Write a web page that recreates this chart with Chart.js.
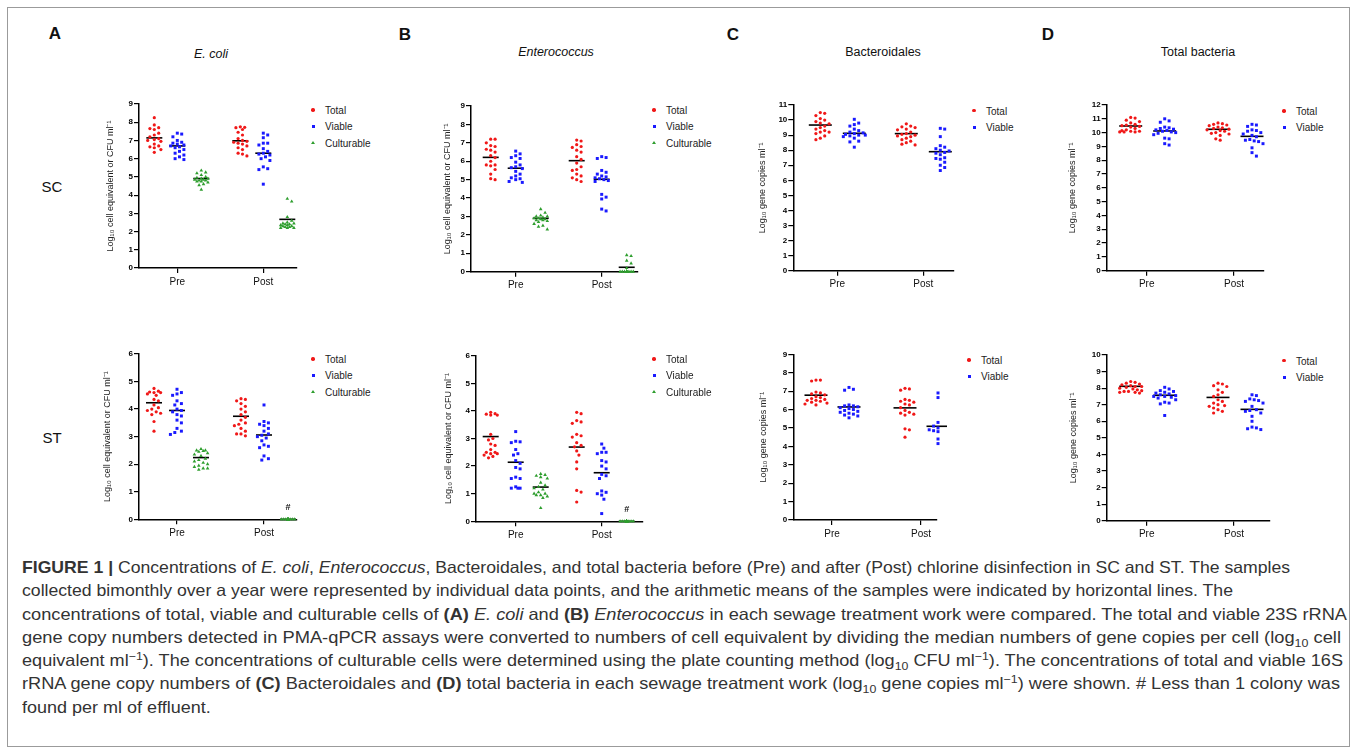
<!DOCTYPE html>
<html>
<head>
<meta charset="utf-8">
<script src="https://cdn.jsdelivr.net/npm/chart.js@4.4.1/dist/chart.umd.min.js"></script>
<style>
  body { margin: 0; background: #fff; font-family: "Liberation Sans", Arial, sans-serif; }
  #page { position: relative; width: 1357px; height: 752px; overflow: hidden; background: #fff; }
  #frame { position: absolute; left: 7px; top: 7px; width: 1343px; height: 740px; border: 1px solid #9b9b9b; box-sizing: border-box; }
  .c { position: absolute; transform: translate(-50%, -50%); white-space: nowrap; color: #111; }
  .letter { font-weight: bold; font-size: 17px; }
  .ptitle { font-size: 12.5px; }
  .row { font-size: 15px; }
  canvas { position: absolute; }
  .leg { position: absolute; font-size: 10px; color: #222; white-space: nowrap; transform: translateY(-50%); }
  .mk { position: absolute; }
  #caption { position: absolute; left: 22px; top: 556px; font-size: 16.5px; color: #333; line-height: 23.3px; }
  .cap { height: 23.3px; white-space: nowrap; transform-origin: 0 0; }
  .cap span { display: inline-block; }
  sub, sup { font-size: 0.68em; line-height: 0; }
</style>
</head>
<body>
<div id="page">
  <div id="frame"></div>
  <div class="c letter" style="left:55px;top:34px">A</div>
  <div class="c letter" style="left:405px;top:35px">B</div>
  <div class="c letter" style="left:733px;top:35px">C</div>
  <div class="c letter" style="left:1048px;top:35px">D</div>
  <div class="c ptitle" style="left:211px;top:54px"><i>E. coli</i></div>
  <div class="c ptitle" style="left:556px;top:52px"><i>Enterococcus</i></div>
  <div class="c ptitle" style="left:883px;top:52px">Bacteroidales</div>
  <div class="c ptitle" style="left:1198px;top:52px">Total bacteria</div>
  <div class="c row" style="left:52px;top:186px">SC</div>
  <div class="c row" style="left:52px;top:437px">ST</div>
  <div id="caption">
    <div class="cap" data-right="1290"><span><b>FIGURE 1 |</b> Concentrations of <i>E. coli</i>, <i>Enterococcus</i>, Bacteroidales, and total bacteria before (Pre) and after (Post) chlorine disinfection in SC and ST. The samples</span></div>
    <div class="cap" data-right="1233"><span>collected bimonthly over a year were represented by individual data points, and the arithmetic means of the samples were indicated by horizontal lines. The</span></div>
    <div class="cap" data-right="1347"><span>concentrations of total, viable and culturable cells of <b>(A)</b> <i>E. coli</i> and <b>(B)</b> <i>Enterococcus</i> in each sewage treatment work were compared. The total and viable 23S rRNA</span></div>
    <div class="cap" data-right="1341"><span>gene copy numbers detected in PMA-qPCR assays were converted to numbers of cell equivalent by dividing the median numbers of gene copies per cell (log<sub>10</sub> cell</span></div>
    <div class="cap" data-right="1343"><span>equivalent ml<sup>−1</sup>). The concentrations of culturable cells were determined using the plate counting method (log<sub>10</sub> CFU ml<sup>−1</sup>). The concentrations of total and viable 16S</span></div>
    <div class="cap" data-right="1340"><span>rRNA gene copy numbers of <b>(C)</b> Bacteroidales and <b>(D)</b> total bacteria in each sewage treatment work (log<sub>10</sub> gene copies ml<sup>−1</sup>) were shown. # Less than 1 colony was</span></div>
    <div class="cap"><span>found per ml of effluent.</span></div>
  </div>
</div>
<script>
// categories and series names
const groups = ['Pre', 'Post'];
const names3 = ['Total', 'Viable', 'Culturable'];
const names2 = ['Total', 'Viable'];
const titleCell = 'Log₁₀ cell equivalent or CFU ml⁻¹';
const titleGene = 'Log₁₀ gene copies ml⁻¹';

// y axis tops (tick labels 0..max)
const yMaxSC = [9, 9, 11, 12];
const yMaxST = [6, 6, 9, 10];

// ---- SC ----  each array: [Pre values, Post values]
const ecoliSC_Total = [[8.25, 7.85, 7.7, 7.65, 7.6, 7.4, 7.3, 7.2, 7.1, 7.05, 7.0, 6.95, 6.8, 6.7, 6.65, 6.6, 6.5, 6.35],
                       [7.75, 7.72, 7.7, 7.6, 7.45, 7.3, 7.1, 7.0, 6.95, 6.9, 6.85, 6.8, 6.7, 6.6, 6.5, 6.3, 6.25, 6.15]];
const ecoliSC_Viable = [[7.4, 7.35, 7.2, 7.0, 6.9, 6.85, 6.8, 6.75, 6.7, 6.65, 6.6, 6.5, 6.4, 6.3, 6.2, 6.1, 6.0, 5.95],
                        [7.4, 7.3, 7.15, 6.85, 6.85, 6.75, 6.55, 6.4, 6.3, 6.25, 6.2, 6.1, 6.0, 5.9, 5.55, 5.45, 5.4, 4.6]];
const ecoliSC_Cult = [[5.35, 5.25, 5.2, 5.1, 5.0, 4.95, 4.9, 4.9, 4.85, 4.85, 4.8, 4.8, 4.75, 4.75, 4.7, 4.6, 4.55, 4.3],
                      [3.8, 3.65, 2.8, 2.6, 2.5, 2.45, 2.45, 2.4, 2.4, 2.35, 2.35, 2.3, 2.3, 2.25, 2.25, 2.2, 2.2, 2.2]];
const ecoliSC_Mean = [[7.14, 6.70, 4.91], [6.98, 6.30, 2.67]];

const enteroSC_Total = [[7.2, 7.2, 7.0, 6.85, 6.8, 6.65, 6.6, 6.5, 6.3, 6.2, 6.0, 5.8, 5.8, 5.75, 5.55, 5.3, 5.05, 5.0],
                        [7.15, 7.1, 6.9, 6.8, 6.75, 6.6, 6.5, 6.25, 6.1, 5.9, 5.7, 5.55, 5.5, 5.3, 5.2, 5.1, 5.0, 4.9]];
const enteroSC_Viable = [[6.55, 6.4, 6.3, 6.2, 6.15, 5.95, 5.8, 5.7, 5.65, 5.6, 5.45, 5.3, 5.2, 5.1, 5.05, 5.0, 4.9, 4.85],
                         [6.25, 6.2, 6.15, 5.5, 5.4, 5.3, 5.2, 5.15, 5.1, 5.05, 5.0, 4.95, 4.9, 4.2, 4.05, 3.95, 3.4, 3.3]];
const enteroSC_Cult = [[3.4, 3.2, 3.05, 3.0, 3.0, 2.95, 2.9, 2.9, 2.85, 2.85, 2.8, 2.8, 2.75, 2.7, 2.6, 2.5, 2.45, 2.3],
                       [0.9, 0.85, 0.6, 0.45, 0.2, 0, 0, 0, 0, 0, 0, 0, 0, 0, 0, 0, 0, 0]];
const enteroSC_Mean = [[6.21, 5.62, 2.90], [6.03, 5.02, 0.24]];

const bactSC_Total = [[10.5, 10.45, 10.3, 10.1, 10.0, 9.9, 9.8, 9.75, 9.6, 9.5, 9.4, 9.3, 9.2, 9.2, 9.1, 8.95, 8.8, 8.7],
                      [9.75, 9.6, 9.55, 9.5, 9.4, 9.35, 9.2, 9.1, 9.05, 9.0, 8.95, 8.9, 8.8, 8.7, 8.6, 8.5, 8.4, 8.35]];
const bactSC_Viable = [[10.05, 9.8, 9.7, 9.6, 9.4, 9.3, 9.2, 9.15, 9.1, 9.05, 9.0, 9.0, 8.95, 8.9, 8.8, 8.6, 8.55, 8.2],
                       [9.45, 9.4, 8.9, 8.3, 8.2, 8.1, 8.0, 7.95, 7.85, 7.8, 7.7, 7.5, 7.45, 7.4, 7.2, 7.0, 6.85, 6.65]];
const bactSC_Mean = [[9.67, 9.12], [9.10, 7.90]];

const totSC_Total = [[11.1, 11.05, 10.9, 10.8, 10.7, 10.6, 10.55, 10.5, 10.45, 10.4, 10.3, 10.2, 10.15, 10.1, 10.1, 10.05, 10.05, 10.05],
                     [10.7, 10.65, 10.6, 10.55, 10.5, 10.4, 10.35, 10.3, 10.25, 10.2, 10.15, 10.1, 10.0, 9.95, 9.9, 9.8, 9.55, 9.45]];
const totSC_Viable = [[11.0, 10.85, 10.75, 10.4, 10.35, 10.3, 10.25, 10.2, 10.15, 10.1, 10.05, 10.0, 9.95, 9.85, 9.6, 9.55, 9.2, 9.1],
                      [10.6, 10.55, 10.45, 10.2, 10.15, 10.1, 10.0, 9.9, 9.8, 9.7, 9.5, 9.45, 9.4, 9.35, 9.2, 8.9, 8.55, 8.3]];
const totSC_Mean = [[10.48, 10.12], [10.24, 9.73]];

// ---- ST ----
const ecoliST_Total = [[4.75, 4.65, 4.62, 4.6, 4.6, 4.55, 4.5, 4.35, 4.3, 4.15, 4.05, 4.0, 3.95, 3.9, 3.85, 3.8, 3.55, 3.2],
                       [4.38, 4.35, 4.3, 4.2, 4.1, 4.0, 3.9, 3.8, 3.7, 3.6, 3.5, 3.45, 3.4, 3.3, 3.2, 3.1, 3.1, 3.03]];
const ecoliST_Viable = [[4.72, 4.6, 4.55, 4.5, 4.3, 4.2, 4.15, 4.0, 3.95, 3.9, 3.8, 3.75, 3.6, 3.5, 3.3, 3.2, 3.15, 3.08],
                        [4.15, 3.55, 3.5, 3.45, 3.4, 3.3, 3.2, 3.1, 3.05, 3.0, 2.95, 2.85, 2.7, 2.65, 2.6, 2.3, 2.2, 2.15]];
const ecoliST_Cult = [[2.55, 2.5, 2.5, 2.48, 2.45, 2.4, 2.35, 2.3, 2.2, 2.15, 2.1, 2.05, 2.0, 1.95, 1.9, 1.85, 1.85, 1.8],
                      [0, 0, 0, 0, 0, 0, 0, 0, 0, 0, 0, 0, 0, 0, 0, 0, 0, 0]];
const ecoliST_Mean = [[4.23, 3.95, 2.24], [3.74, 3.06, 0]];

const enteroST_Total = [[3.95, 3.9, 3.88, 3.85, 3.85, 3.15, 3.0, 2.95, 2.8, 2.75, 2.6, 2.5, 2.5, 2.45, 2.45, 2.4, 2.35, 2.3],
                        [3.95, 3.9, 3.65, 3.6, 3.55, 3.15, 3.1, 3.05, 2.85, 2.75, 2.7, 2.55, 2.4, 2.15, 1.9, 1.12, 1.06, 0.7]];
const enteroST_Viable = [[3.25, 2.9, 2.88, 2.85, 2.6, 2.45, 2.4, 2.2, 2.1, 1.95, 1.9, 1.6, 1.55, 1.55, 1.25, 1.2, 1.2, 1.2],
                         [2.8, 2.65, 2.5, 2.5, 2.45, 2.2, 2.15, 2.0, 1.9, 1.7, 1.65, 1.55, 1.1, 1.05, 1.0, 0.95, 0.8, 0.28]];
const enteroST_Cult = [[1.72, 1.68, 1.65, 1.6, 1.55, 1.4, 1.3, 1.25, 1.2, 1.15, 1.05, 1.0, 1.0, 0.95, 0.95, 0.9, 0.85, 0.48],
                       [0, 0, 0, 0, 0, 0, 0, 0, 0, 0, 0, 0, 0, 0, 0, 0, 0, 0]];
const enteroST_Mean = [[3.07, 2.14, 1.24], [2.69, 1.76, 0]];

const bactST_Total = [[7.6, 7.6, 7.55, 6.95, 6.9, 6.85, 6.8, 6.7, 6.65, 6.6, 6.55, 6.5, 6.5, 6.45, 6.4, 6.35, 6.3, 6.25],
                      [7.15, 7.12, 7.05, 6.55, 6.5, 6.45, 6.4, 6.3, 6.25, 6.1, 5.95, 5.85, 5.8, 5.75, 5.7, 4.95, 4.9, 4.5]];
const bactST_Viable = [[7.2, 7.1, 7.05, 6.25, 6.2, 6.2, 6.15, 6.1, 6.05, 6.0, 5.95, 5.9, 5.85, 5.8, 5.75, 5.7, 5.65, 5.55],
                       [6.9, 6.85, 6.65, 5.3, 5.2, 5.1, 5.0, 4.95, 4.9, 4.9, 4.85, 4.8, 4.7, 4.65, 4.4, 4.3, 4.15, 4.05]];
const bactST_Mean = [[6.78, 6.14], [6.09, 5.09]];

const totST_Total = [[8.4, 8.35, 8.3, 8.25, 8.2, 8.15, 8.1, 8.1, 8.05, 8.0, 7.95, 7.9, 7.85, 7.8, 7.8, 7.75, 7.75, 7.7],
                     [8.3, 8.25, 8.15, 8.1, 7.9, 7.75, 7.6, 7.5, 7.3, 7.2, 7.1, 7.0, 6.95, 6.9, 6.8, 6.7, 6.6, 6.5]];
const totST_Viable = [[8.05, 7.95, 7.85, 7.8, 7.75, 7.7, 7.65, 7.6, 7.55, 7.5, 7.5, 7.45, 7.4, 7.3, 7.15, 7.1, 7.05, 6.35],
                      [7.6, 7.55, 7.35, 7.3, 7.25, 7.2, 7.1, 6.9, 6.7, 6.65, 6.6, 6.5, 6.3, 6.0, 5.65, 5.6, 5.55, 5.5]];
const totST_Mean = [[8.11, 7.57], [7.44, 6.72]];

// marker styles per series
const colors = ['#f01818', '#1a1aff', '#2e9e2e'];
const pointStyles = ['circle', 'rect', 'triangle'];
const pointRadii = [1.6, 2.1, 2.1];

// placement of every panel on the page (pixels)
const panels = [
  { names: names3, series: [ecoliSC_Total, ecoliSC_Viable, ecoliSC_Cult], means: ecoliSC_Mean, yMax: yMaxSC[0], yTitle: titleCell,
    axisX: 139, axisEnd: 297, topY: 104, zeroY: 268, pre: 177.3, post: 263.3, titleX: 110, offs: [-23, 0, 24], legX: 313, legY: 110 },
  { names: names3, series: [enteroSC_Total, enteroSC_Viable, enteroSC_Cult], means: enteroSC_Mean, yMax: yMaxSC[1], yTitle: titleCell,
    axisX: 471, axisEnd: 638, topY: 106, zeroY: 271.7, pre: 515.7, post: 601.7, titleX: 447.7, offs: [-25, 0, 25], legX: 654, legY: 110 },
  { names: names2, series: [bactSC_Total, bactSC_Viable], means: bactSC_Mean, yMax: yMaxSC[2], yTitle: titleGene,
    axisX: 793.3, axisEnd: 954, topY: 105, zeroY: 270.7, pre: 837.3, post: 923.3, titleX: 762.7, offs: [-17, 17], legX: 974, legY: 110.7 },
  { names: names2, series: [totSC_Total, totSC_Viable], means: totSC_Mean, yMax: yMaxSC[3], yTitle: titleGene,
    axisX: 1106.7, axisEnd: 1264, topY: 105, zeroY: 270.7, pre: 1146.7, post: 1234, titleX: 1072.7, offs: [-16, 18], legX: 1284, legY: 111 },
  { names: names3, series: [ecoliST_Total, ecoliST_Viable, ecoliST_Cult], means: ecoliST_Mean, yMax: yMaxST[0], yTitle: titleCell,
    axisX: 139, axisEnd: 297, topY: 354, zeroY: 519.3, pre: 177, post: 264, titleX: 107.3, offs: [-23, 0, 24], legX: 313, legY: 359, hash: '#' },
  { names: names3, series: [enteroST_Total, enteroST_Viable, enteroST_Cult], means: enteroST_Mean, yMax: yMaxST[1], yTitle: titleCell,
    axisX: 476, axisEnd: 643, topY: 355.7, zeroY: 521.3, pre: 515.7, post: 601.7, titleX: 448.3, offs: [-25, 0, 25], legX: 654, legY: 359, hash: '#' },
  { names: names2, series: [bactST_Total, bactST_Viable], means: bactST_Mean, yMax: yMaxST[2], yTitle: titleGene,
    axisX: 793.3, axisEnd: 937, topY: 354.3, zeroY: 520, pre: 832, post: 921, titleX: 763, offs: [-16, 17], legX: 969, legY: 360 },
  { names: names2, series: [totST_Total, totST_Viable], means: totST_Mean, yMax: yMaxST[3], yTitle: titleGene,
    axisX: 1106.7, axisEnd: 1270, topY: 355, zeroY: 520.7, pre: 1146.7, post: 1234, titleX: 1073, offs: [-16, 18], legX: 1284, legY: 360.7 }
];

Chart.defaults.font.family = '"Liberation Sans", Arial, sans-serif';

// spread points of one group sideways so they don't overlap (dot plot layout)
function swarm(values, pxPerY, maxOff) {
  const step = 2.2, minDist = 4.4;
  const cands = [0];
  for (let k = 1; k * step <= maxOff; k++) cands.push(k * step, -k * step);
  const order = values.map((v, i) => i).sort((a, b) => values[b] - values[a]);
  const placed = [];
  const out = new Array(values.length).fill(0);
  order.forEach(i => {
    const y = values[i] * pxPerY;
    let best = 0, bestD = -1;
    for (const c of cands) {
      let dmin = Infinity;
      placed.forEach(q => { dmin = Math.min(dmin, Math.hypot(q.x - c, q.y - y)); });
      if (dmin >= minDist) { best = c; break; }
      if (dmin > bestD) { bestD = dmin; best = c; }
    }
    placed.push({ x: best, y: y });
    out[i] = best;
  });
  return out;
}

const page = document.getElementById('page');

function makePanel(p) {
  const xAxisH = 26;
  const d = p.post - p.pre;                 // pixels per x unit
  const pxPerY = (p.zeroY - p.topY) / p.yMax;
  const left = Math.round(p.titleX - 9.4);
  const top = Math.round(p.topY - 8);
  const width = Math.ceil(p.axisEnd - left + 10);
  const height = Math.ceil(p.zeroY - top + xAxisH);
  const wY = p.axisX - left;

  const canvas = document.createElement('canvas');
  canvas.width = width;
  canvas.height = height;
  canvas.style.left = left + 'px';
  canvas.style.top = top + 'px';
  canvas.style.width = width + 'px';
  canvas.style.height = height + 'px';
  page.appendChild(canvas);

  const maxOff = p.names.length === 3 ? 8.5 : 11;
  const meanHalf = p.names.length === 3 ? 8 : 11.5;
  const datasets = [];

  p.series.forEach((ser, s) => {
    const pts = [];
    ser.forEach((vals, g) => {
      const spread = swarm(vals, pxPerY, maxOff);
      vals.forEach((v, i) => pts.push({ x: g + 1 + (p.offs[s] + spread[i]) / d, y: v }));
    });
    datasets.push({
      label: p.names[s], data: pts, order: 0, clip: false,
      pointStyle: pointStyles[s], pointRadius: pointRadii[s], pointBorderWidth: 0,
      pointBackgroundColor: colors[s], borderColor: colors[s], showLine: false
    });
  });

  p.means.forEach((row, g) => {
    row.forEach((m, s) => {
      const cx = g + 1 + p.offs[s] / d;
      datasets.push({
        label: 'mean', order: 1, clip: false, showLine: true,
        data: [{ x: cx - meanHalf / d, y: m }, { x: cx + meanHalf / d, y: m }],
        borderColor: '#000', borderWidth: 1.6, pointRadius: 0
      });
    });
  });

  const hashPlugin = {
    id: 'hash',
    afterDatasetsDraw(chart) {
      if (!p.hash) return;
      const { ctx, scales } = chart;
      const x = scales.x.getPixelForValue(2 + p.offs[2] / d);
      const y = scales.y.getPixelForValue(0) - 12;
      ctx.save();
      ctx.font = 'bold 9px "Liberation Sans", Arial, sans-serif';
      ctx.fillStyle = '#111';
      ctx.textAlign = 'center';
      ctx.textBaseline = 'middle';
      ctx.fillText(p.hash, x, y);
      ctx.restore();
    }
  };

  new Chart(canvas, {
    type: 'scatter',
    data: { datasets: datasets },
    plugins: [hashPlugin],
    options: {
      responsive: false,
      animation: false,
      layout: { padding: { left: 0, top: p.topY - top, right: width - (p.axisEnd - left), bottom: height - (p.zeroY - top) - xAxisH } },
      plugins: { legend: { display: false }, tooltip: { enabled: false } },
      scales: {
        x: {
          type: 'linear',
          min: 1 - (p.pre - p.axisX) / d,
          max: 2 + (p.axisEnd - p.post) / d,
          afterBuildTicks: sc => { sc.ticks = groups.map((gname, i) => ({ value: i + 1 })); },
          afterFit: sc => { sc.height = xAxisH; },
          grid: { drawOnChartArea: false, color: '#000', lineWidth: 1.2, tickLength: 5 },
          border: { display: true, color: '#000', width: 1.5 },
          ticks: { callback: (v, i) => groups[i], color: '#111', font: { size: 10 }, padding: 3, maxRotation: 0, minRotation: 0, autoSkip: false }
        },
        y: {
          min: 0,
          max: p.yMax,
          afterFit: sc => { sc.width = wY; },
          grid: { drawOnChartArea: false, color: '#000', lineWidth: 1.2, tickLength: 5 },
          border: { display: true, color: '#000', width: 1.5 },
          ticks: { stepSize: 1, autoSkip: false, color: '#000', font: { size: 8, weight: 'bold' }, padding: 1 },
          title: { display: true, text: p.yTitle, color: '#222', font: { size: 9 }, padding: { top: 4, bottom: 0 } }
        }
      }
    }
  });

  // legend
  p.names.forEach((nm, s) => {
    const y = p.legY + s * 16.4;
    const mk = document.createElement('div');
    mk.className = 'mk';
    if (pointStyles[s] === 'circle') {
      mk.style.cssText = `left:${p.legX - 1.7}px;top:${y - 1.7}px;width:3.4px;height:3.4px;border-radius:50%;background:${colors[s]}`;
    } else if (pointStyles[s] === 'rect') {
      mk.style.cssText = `left:${p.legX - 1.5}px;top:${y - 1.5}px;width:3px;height:3px;background:${colors[s]}`;
    } else {
      mk.style.cssText = `left:${p.legX - 2}px;top:${y - 2}px;width:0;height:0;border-left:2px solid transparent;border-right:2px solid transparent;border-bottom:3.5px solid ${colors[s]}`;
    }
    page.appendChild(mk);
    const t = document.createElement('div');
    t.className = 'leg';
    t.style.left = (p.legX + 12) + 'px';
    t.style.top = y + 'px';
    t.textContent = nm;
    page.appendChild(t);
  });
}

panels.forEach(makePanel);

// fit caption lines to the widths of the original
let scales = [];
document.querySelectorAll('#caption .cap').forEach(line => {
  const r = line.getAttribute('data-right');
  if (!r) return;
  const w = line.firstElementChild.getBoundingClientRect().width;
  const k = (Number(r) - 22) / w;
  scales.push(k);
  line.style.transform = `scaleX(${k})`;
});
const avg = scales.reduce((a, b) => a + b, 0) / scales.length;
document.querySelectorAll('#caption .cap').forEach(line => {
  if (!line.getAttribute('data-right')) line.style.transform = `scaleX(${avg})`;
});
</script>
</body>
</html>
